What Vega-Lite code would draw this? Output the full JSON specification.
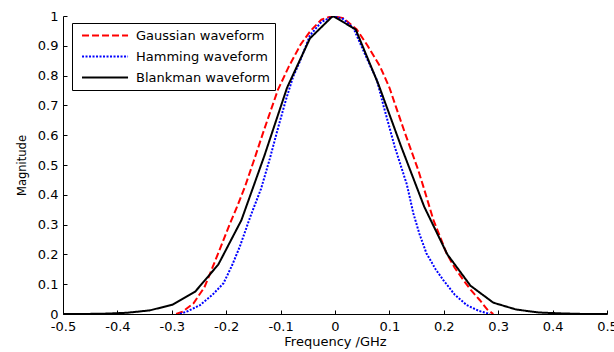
{
  "$schema": "https://vega.github.io/schema/vega-lite/v6.json",
  "autosize": "none",
  "width": 544,
  "height": 298,
  "padding": {"left": 63, "top": 16, "right": 7, "bottom": 38},
  "background": "white",
  "config": {
    "view": {"stroke": null},
    "font": "DejaVu Sans",
    "axis": {
      "domainColor": "black",
      "tickColor": "black",
      "labelColor": "black",
      "titleColor": "black",
      "grid": false,
      "labelFont": "DejaVu Sans",
      "titleFont": "DejaVu Sans",
      "labelFontSize": 13,
      "titleFontSize": 13,
      "titleFontWeight": "normal",
      "tickSize": -4,
      "domainWidth": 1,
      "tickWidth": 1
    }
  },
  "data": {
    "values": [
      {"series": "Gaussian waveform", "f": -0.292, "m": 0},
      {"series": "Gaussian waveform", "f": -0.28, "m": 0.008},
      {"series": "Gaussian waveform", "f": -0.26, "m": 0.036},
      {"series": "Gaussian waveform", "f": -0.24, "m": 0.09},
      {"series": "Gaussian waveform", "f": -0.227, "m": 0.148},
      {"series": "Gaussian waveform", "f": -0.21, "m": 0.225},
      {"series": "Gaussian waveform", "f": -0.193, "m": 0.304},
      {"series": "Gaussian waveform", "f": -0.18, "m": 0.36},
      {"series": "Gaussian waveform", "f": -0.165, "m": 0.43},
      {"series": "Gaussian waveform", "f": -0.15, "m": 0.51},
      {"series": "Gaussian waveform", "f": -0.13, "m": 0.62},
      {"series": "Gaussian waveform", "f": -0.105, "m": 0.752},
      {"series": "Gaussian waveform", "f": -0.085, "m": 0.83},
      {"series": "Gaussian waveform", "f": -0.063, "m": 0.905},
      {"series": "Gaussian waveform", "f": -0.045, "m": 0.95},
      {"series": "Gaussian waveform", "f": -0.025, "m": 0.988},
      {"series": "Gaussian waveform", "f": -0.005, "m": 1.0},
      {"series": "Gaussian waveform", "f": 0.015, "m": 0.993},
      {"series": "Gaussian waveform", "f": 0.04, "m": 0.955},
      {"series": "Gaussian waveform", "f": 0.06, "m": 0.9},
      {"series": "Gaussian waveform", "f": 0.083, "m": 0.83},
      {"series": "Gaussian waveform", "f": 0.1, "m": 0.76},
      {"series": "Gaussian waveform", "f": 0.113, "m": 0.69},
      {"series": "Gaussian waveform", "f": 0.13, "m": 0.6},
      {"series": "Gaussian waveform", "f": 0.153, "m": 0.483},
      {"series": "Gaussian waveform", "f": 0.162, "m": 0.43},
      {"series": "Gaussian waveform", "f": 0.181, "m": 0.315},
      {"series": "Gaussian waveform", "f": 0.205, "m": 0.204},
      {"series": "Gaussian waveform", "f": 0.22, "m": 0.155},
      {"series": "Gaussian waveform", "f": 0.236, "m": 0.114},
      {"series": "Gaussian waveform", "f": 0.25, "m": 0.08},
      {"series": "Gaussian waveform", "f": 0.266, "m": 0.047},
      {"series": "Gaussian waveform", "f": 0.28, "m": 0.015},
      {"series": "Gaussian waveform", "f": 0.291, "m": 0},
      {"series": "Hamming waveform", "f": -0.285, "m": 0},
      {"series": "Hamming waveform", "f": -0.27, "m": 0.01},
      {"series": "Hamming waveform", "f": -0.248, "m": 0.03},
      {"series": "Hamming waveform", "f": -0.225, "m": 0.065},
      {"series": "Hamming waveform", "f": -0.205, "m": 0.103},
      {"series": "Hamming waveform", "f": -0.19, "m": 0.16},
      {"series": "Hamming waveform", "f": -0.175, "m": 0.226},
      {"series": "Hamming waveform", "f": -0.155, "m": 0.33},
      {"series": "Hamming waveform", "f": -0.136, "m": 0.42},
      {"series": "Hamming waveform", "f": -0.12, "m": 0.52},
      {"series": "Hamming waveform", "f": -0.104, "m": 0.629},
      {"series": "Hamming waveform", "f": -0.09, "m": 0.72},
      {"series": "Hamming waveform", "f": -0.077, "m": 0.796},
      {"series": "Hamming waveform", "f": -0.064, "m": 0.85},
      {"series": "Hamming waveform", "f": -0.046, "m": 0.935},
      {"series": "Hamming waveform", "f": -0.025, "m": 0.98},
      {"series": "Hamming waveform", "f": -0.003, "m": 1.0},
      {"series": "Hamming waveform", "f": 0.015, "m": 0.99},
      {"series": "Hamming waveform", "f": 0.034, "m": 0.959},
      {"series": "Hamming waveform", "f": 0.058, "m": 0.86},
      {"series": "Hamming waveform", "f": 0.077, "m": 0.785},
      {"series": "Hamming waveform", "f": 0.089, "m": 0.7},
      {"series": "Hamming waveform", "f": 0.11, "m": 0.56},
      {"series": "Hamming waveform", "f": 0.132, "m": 0.435},
      {"series": "Hamming waveform", "f": 0.144, "m": 0.338},
      {"series": "Hamming waveform", "f": 0.155, "m": 0.27},
      {"series": "Hamming waveform", "f": 0.168, "m": 0.204},
      {"series": "Hamming waveform", "f": 0.185, "m": 0.15},
      {"series": "Hamming waveform", "f": 0.199, "m": 0.114},
      {"series": "Hamming waveform", "f": 0.22, "m": 0.065},
      {"series": "Hamming waveform", "f": 0.242, "m": 0.03},
      {"series": "Hamming waveform", "f": 0.265, "m": 0.01},
      {"series": "Hamming waveform", "f": 0.285, "m": 0},
      {"series": "Blankman waveform", "f": -0.5, "m": 0},
      {"series": "Blankman waveform", "f": -0.467, "m": 0},
      {"series": "Blankman waveform", "f": -0.425, "m": 0.001},
      {"series": "Blankman waveform", "f": -0.383, "m": 0.004},
      {"series": "Blankman waveform", "f": -0.341, "m": 0.012},
      {"series": "Blankman waveform", "f": -0.299, "m": 0.031},
      {"series": "Blankman waveform", "f": -0.257, "m": 0.075},
      {"series": "Blankman waveform", "f": -0.2145, "m": 0.166},
      {"series": "Blankman waveform", "f": -0.172, "m": 0.315},
      {"series": "Blankman waveform", "f": -0.13, "m": 0.53},
      {"series": "Blankman waveform", "f": -0.088, "m": 0.76},
      {"series": "Blankman waveform", "f": -0.046, "m": 0.925},
      {"series": "Blankman waveform", "f": -0.004, "m": 1.0},
      {"series": "Blankman waveform", "f": 0.038, "m": 0.955},
      {"series": "Blankman waveform", "f": 0.08, "m": 0.77},
      {"series": "Blankman waveform", "f": 0.122, "m": 0.56},
      {"series": "Blankman waveform", "f": 0.164, "m": 0.36},
      {"series": "Blankman waveform", "f": 0.2065, "m": 0.2},
      {"series": "Blankman waveform", "f": 0.249, "m": 0.095},
      {"series": "Blankman waveform", "f": 0.291, "m": 0.038},
      {"series": "Blankman waveform", "f": 0.333, "m": 0.015},
      {"series": "Blankman waveform", "f": 0.375, "m": 0.005},
      {"series": "Blankman waveform", "f": 0.417, "m": 0.002},
      {"series": "Blankman waveform", "f": 0.459, "m": 0},
      {"series": "Blankman waveform", "f": 0.5, "m": 0}
    ]
  },
  "mark": {"type": "line", "strokeWidth": 2, "clip": true},
  "encoding": {
    "x": {
      "field": "f",
      "type": "quantitative",
      "scale": {"domain": [-0.5, 0.5], "nice": false, "zero": false},
      "axis": {
        "title": "Frequency /GHz",
        "values": [-0.5, -0.4, -0.3, -0.2, -0.1, 0, 0.1, 0.2, 0.3, 0.4, 0.5],
        "labelExpr": "datum.value < 0 ? '-' + format(-datum.value, '~g') : format(datum.value, '~g')",
        "labelPadding": 10,
        "titlePadding": 2,
        "labelFlush": false
      }
    },
    "y": {
      "field": "m",
      "type": "quantitative",
      "scale": {"domain": [0, 1], "nice": false},
      "axis": {
        "title": "Magnitude",
        "titleFontSize": 11.5,
        "values": [0, 0.1, 0.2, 0.3, 0.4, 0.5, 0.6, 0.7, 0.8, 0.9, 1],
        "labelExpr": "format(datum.value, '~g')",
        "labelPadding": 9,
        "titlePadding": 10,
        "labelFlush": false
      }
    },
    "color": {
      "field": "series",
      "type": "nominal",
      "scale": {
        "domain": ["Gaussian waveform", "Hamming waveform", "Blankman waveform"],
        "range": ["#ff0000", "#0000ff", "#000000"]
      },
      "legend": {
        "title": null,
        "orient": "none",
        "legendX": 9,
        "legendY": 7,
        "fillColor": "white",
        "strokeColor": "black",
        "padding": 5,
        "symbolType": "M-0.38,0H6.7",
        "symbolSize": 169,
        "symbolStrokeWidth": 2,
        "labelFont": "DejaVu Sans",
        "labelFontSize": 13,
        "labelColor": "black",
        "rowPadding": 6,
        "labelOffset": 44
      }
    },
    "strokeDash": {
      "field": "series",
      "type": "nominal",
      "scale": {
        "domain": ["Gaussian waveform", "Hamming waveform", "Blankman waveform"],
        "range": [[7, 3], [2, 1.5], [1, 0]]
      },
      "legend": null
    }
  }
}
